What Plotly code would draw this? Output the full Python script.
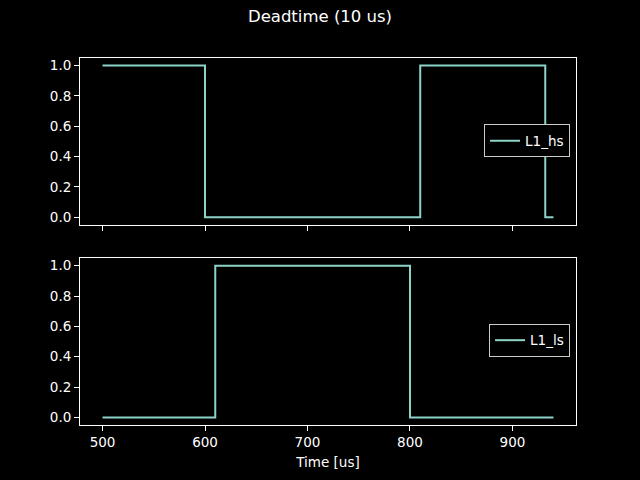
import plotly.graph_objects as go
from plotly.subplots import make_subplots

# step data (time in us)
hs_time = [500, 600, 810, 932, 940]
hs_state = [1, 0, 1, 0, 0]
ls_time = [500, 610, 800, 940]
ls_state = [0, 1, 0, 0]

x_ticks = [500, 600, 700, 800, 900]
y_ticks = [0.0, 0.2, 0.4, 0.6, 0.8, 1.0]
y_labels = ['0.0', '0.2', '0.4', '0.6', '0.8', '1.0']

line_color = '#8dd3c7'
font = 'DejaVu Sans'

fig = make_subplots(rows=2, cols=1, shared_xaxes=True, vertical_spacing=0.07)

fig.add_trace(go.Scatter(x=hs_time, y=hs_state, mode='lines', name='L1_hs',
                         line=dict(color=line_color, width=2, shape='hv'),
                         legend='legend'), row=1, col=1)
fig.add_trace(go.Scatter(x=ls_time, y=ls_state, mode='lines', name='L1_ls',
                         line=dict(color=line_color, width=2, shape='hv'),
                         legend='legend2'), row=2, col=1)

axis_style = dict(
    showline=True, linecolor='white', linewidth=1, mirror=True,
    ticks='outside', ticklen=5, tickcolor='white', tickwidth=1,
    tickfont=dict(color='white', size=13.5, family=font),
    showgrid=False, zeroline=False,
)

fig.update_xaxes(range=[478, 962], tickvals=x_ticks, **axis_style)
fig.update_yaxes(range=[-0.05, 1.05], tickvals=y_ticks, ticktext=y_labels, **axis_style)
fig.update_xaxes(showticklabels=False, row=1, col=1)
fig.update_xaxes(title=dict(text='Time [us]', font=dict(color='white', size=13.5, family=font),
                            standoff=8), row=2, col=1)

legend_style = dict(
    bgcolor='black', bordercolor='#cccccc', borderwidth=1,
    font=dict(color='white', size=13.5, family=font),
    xanchor='right', yanchor='middle',
)

fig.update_layout(
    width=640, height=480,
    paper_bgcolor='black', plot_bgcolor='black',
    margin=dict(l=80, r=64, t=57.6, b=52.8),
    title=dict(text='Deadtime (10 us)', x=0.5, xanchor='center', y=0.966, yanchor='middle',
               font=dict(color='white', size=16.5, family=font)),
    showlegend=True,
    legend=dict(x=0.988, y=0.774, **legend_style),
    legend2=dict(x=0.988, y=0.2305, **legend_style),
)
fig.update_layout(xaxis=dict(domain=[0, 1]), yaxis=dict(domain=[0.5454, 1]),
                  xaxis2=dict(domain=[0, 1]), yaxis2=dict(domain=[0, 0.4546]))

fig.write_html("out.html", config={'displayModeBar': False},
               post_script="document.body.style.margin='0';")
